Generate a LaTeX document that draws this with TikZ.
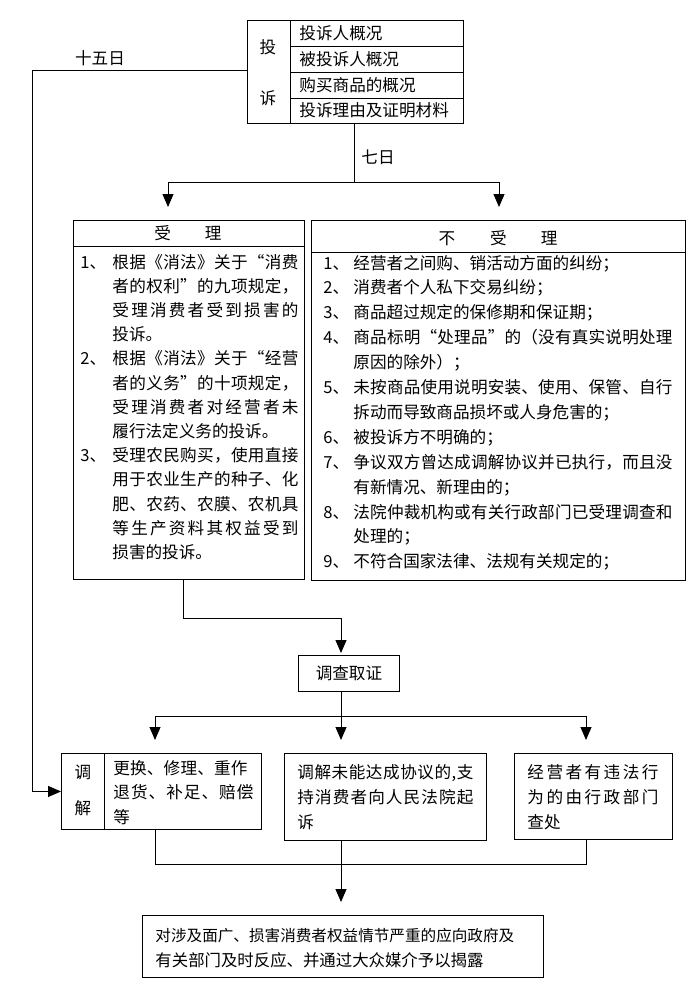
\documentclass[tikz,border=0pt]{standalone}
\usepackage{fontspec}
\setmainfont{Noto Sans CJK SC}
\newfontfamily\fwfont[CharacterWidth=Full]{Noto Sans CJK SC}
\usetikzlibrary{arrows.meta}
\newcommand\qo{{\fwfont “}}
\newcommand\qc{{\fwfont ”}}
\newcommand\jus[2]{\makebox[#1][s]{\jusA#2\relax}}
\def\jusA#1#2{#1\ifx\relax#2\else\hfil\expandafter\jusA\expandafter#2\fi}
\newcommand\num[2]{\makebox[#1][l]{#2}}
\begin{document}
\begin{tikzpicture}[x=1pt,y=-1pt, line width=0.9pt,
  font=\fontsize{16.6}{20}\selectfont,
  box/.style={draw, line width=0.9pt, inner sep=0pt, anchor=north west},
  txt/.style={inner sep=0pt, anchor=base west},
  lbl/.style={inner sep=0pt},
  arr/.style={-{Triangle[length=13pt,width=11pt]}}]
\useasboundingbox (0,0) rectangle (700,996);
\fill[white] (0,0) rectangle (700,996);

% ---------- boxes ----------
\node[box, minimum width=216pt, minimum height=103pt] (tousu) at (247,20) {};
\draw (290,20) -- (290,123);
\draw (290,46) -- (463,46);
\draw (290,72) -- (463,72);
\draw (290,98) -- (463,98);

\node[box, minimum width=231pt, minimum height=359pt] (shouli) at (73,220) {};
\draw (73,246) -- (304,246);
\node[box, minimum width=374pt, minimum height=360pt] (bushouli) at (311,220) {};
\draw (311,252) -- (685,252);

\node[box, minimum width=101pt, minimum height=36pt] (diaocha) at (298,655) {调查取证};

\node[box, minimum width=200pt, minimum height=76pt] (tiaojie) at (61,753) {};
\draw (104,753) -- (104,829);
\node[box, minimum width=202pt, minimum height=87pt] (mid) at (284,753) {};
\node[box, minimum width=158pt, minimum height=86pt] (chachu) at (514,753) {};
\node[box, minimum width=401pt, minimum height=62pt] (jielu) at (142,915) {};

% ---------- texts ----------
\node[lbl] (tou) at (268,47) {投};
\node[lbl] (su) at (268,98) {诉};
\node[txt] (r1) at (299,39) {投诉人概况};
\node[txt] (r2) at (299,65) {被投诉人概况};
\node[txt] (r3) at (299,91) {购买商品的概况};
\node[txt] (r4) at (299,116.5) {投诉理由及证明材料};

\node[lbl] (shiwu) at (100,58) {十五日};
\node[lbl] (qiri) at (378,157) {七日};

\node[lbl] (shouliH) at (188,233) {受\hspace{34pt}理};
\node[lbl] (bushouliH) at (498,238) {不\hspace{35pt}受\hspace{34pt}理};

\foreach \t [count=\i from 0] in {%
  {\num{32pt}{1、}\jus{186pt}{根据《消法》关于\qo 消费}},
  {\hspace*{32pt}\jus{186pt}{者的权利\qc 的九项规定，}},
  {\hspace*{32pt}\jus{186pt}{受理消费者受到损害的}},
  {\hspace*{32pt}投诉。},
  {\num{32pt}{2、}\jus{186pt}{根据《消法》关于\qo 经营}},
  {\hspace*{32pt}\jus{186pt}{者的义务\qc 的十项规定，}},
  {\hspace*{32pt}\jus{186pt}{受理消费者对经营者未}},
  {\hspace*{32pt}履行法定义务的投诉。},
  {\num{32pt}{3、}\jus{186pt}{受理农民购买，使用直接}},
  {\hspace*{32pt}\jus{186pt}{用于农业生产的种子、化}},
  {\hspace*{32pt}\jus{186pt}{肥、农药、农膜、农机具}},
  {\hspace*{32pt}\jus{186pt}{等生产资料其权益受到}},
  {\hspace*{32pt}损害的投诉。}}
  \node[txt] (sl\i) at (80,{268+24.2*\i}) {\t};

\foreach \t [count=\i from 0] in {%
  {\num{30pt}{1、}经营者之间购、销活动方面的纠纷；},
  {\num{30pt}{2、}消费者个人私下交易纠纷；},
  {\num{30pt}{3、}商品超过规定的保修期和保证期；},
  {\num{30pt}{4、}\jus{319pt}{商品标明\qo 处理品\qc 的（没有真实说明处理}},
  {\hspace*{30pt}原因的除外）；},
  {\num{30pt}{5、}\jus{319pt}{未按商品使用说明安装、使用、保管、自行}},
  {\hspace*{30pt}拆动而导致商品损坏或人身危害的；},
  {\num{30pt}{6、}被投诉方不明确的；},
  {\num{30pt}{7、}\jus{319pt}{争议双方曾达成调解协议并已执行，而且没}},
  {\hspace*{30pt}有新情况、新理由的；},
  {\num{30pt}{8、}\jus{319pt}{法院仲裁机构或有关行政部门已受理调查和}},
  {\hspace*{30pt}处理的；},
  {\num{30pt}{9、}不符合国家法律、法规有关规定的；}}
  \node[txt] (bl\i) at (323,{269+24.9*\i}) {\t};

\node[lbl] (tiao) at (83,772) {调};
\node[lbl] (jie) at (83,808) {解};
\foreach \t [count=\i from 0] in {%
  {\jus{134pt}{更换、修理、重作}},
  {\jus{140pt}{退货、补足、赔偿}},
  {等}}
  \node[txt] (tl\i) at (113,{774+24.5*\i}) {\t};
\foreach \t [count=\i from 0] in {%
  {\jus{176pt}{调解未能达成协议的,支}},
  {\jus{176pt}{持消费者向人民法院起}},
  {诉}}
  \node[txt] (ml\i) at (297,{778+25*\i}) {\t};
\foreach \t [count=\i from 0] in {%
  {\jus{131pt}{经营者有违法行}},
  {\jus{131pt}{为的由行政部门}},
  {查处}}
  \node[txt] (cl\i) at (527,{778+25*\i}) {\t};
\node[txt, font=\fontsize{15.6}{20}\selectfont] (jl0) at (155,941) {对涉及面广、损害消费者权益情节严重的应向政府及};
\node[txt, font=\fontsize{16.4}{20}\selectfont] (jl1) at (155,966) {有关部门及时反应、并通过大众媒介予以揭露};

% ---------- connectors ----------
\coordinate (L) at (32,70);
\draw[arr] ([yshift=1.5pt]tousu.west) -| (L |- tiaojie.west) -- (tiaojie.west);

\coordinate (s1) at (354,182);
\coordinate (xa) at (168,0);
\coordinate (xb) at (499,0);
\draw (tousu.south -| s1) -- (s1);
\draw[arr, shorten >=13pt] (s1) -| (shouli.north -| xa);
\draw[arr, shorten >=13pt] (s1) -| (bushouli.north -| xb);

\coordinate (xc) at (183,0);
\coordinate (c2) at (341,618);
\draw[arr, shorten >=2pt] (shouli.south -| xc) |- (c2) -- (c2 |- diaocha.north);

\coordinate (s3) at (341,716);
\coordinate (xd) at (155,0);
\coordinate (xe) at (586,0);
\draw (diaocha.south -| s3) -- (s3);
\draw[arr, shorten >=13pt] (s3) -| (tiaojie.north -| xd);
\draw[arr, shorten >=13pt] (s3) -- (mid.north -| s3);
\draw[arr, shorten >=13pt] (s3) -| (chachu.north -| xe);

\coordinate (c5) at (155,864);
\draw (tiaojie.south -| xd) |- (c5 -| xe) -- (chachu.south -| xe);
\draw[arr, shorten >=13pt] (mid.south -| s3) -- (jielu.north -| s3);
\end{tikzpicture}
\end{document}
